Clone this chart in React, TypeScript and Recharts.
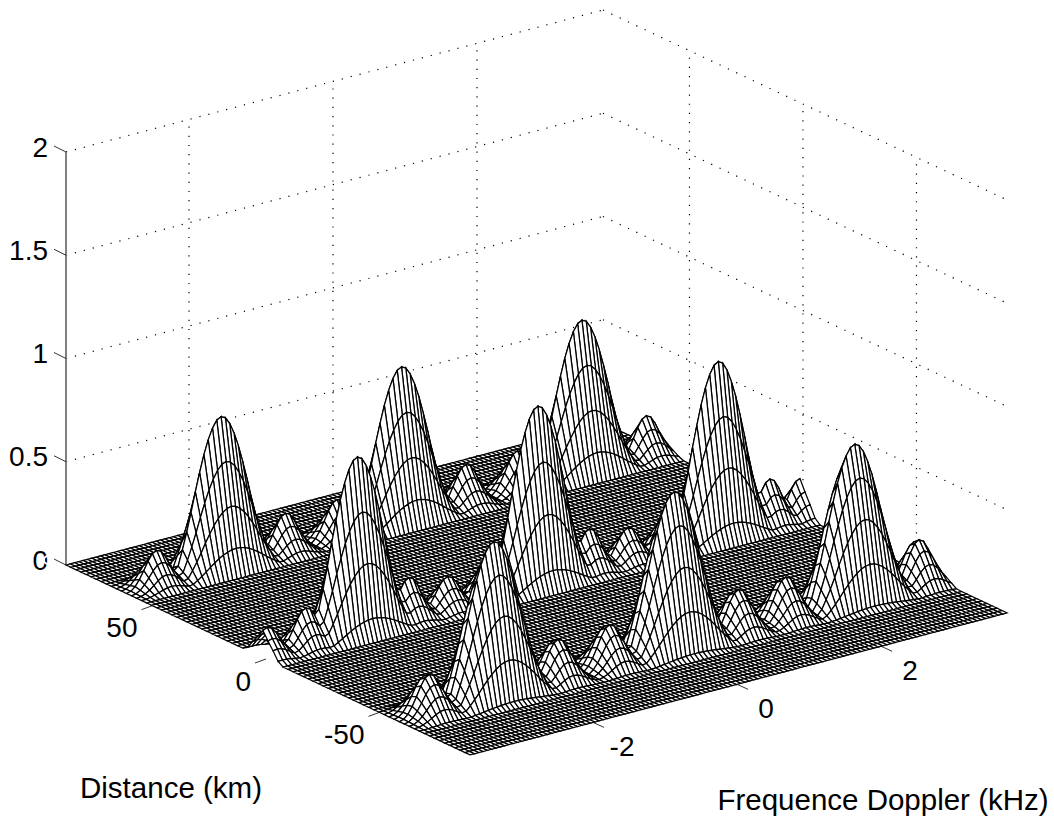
import { ComposedChart, Line, XAxis, YAxis } from "recharts";

const zTicks = [0, 0.5, 1, 1.5, 2];
const zTickLabels = ["0", "0.5", "1", "1.5", "2"];
const dopplerTicks = [-2, 0, 2];
const distanceTicks = [50, 0, -50];

// mesh size, as counted on the floor of the plot
const ROWS = 80;
const COLS = 125;

// the three bands of peaks, back to front
const bandRows = [12, 39, 66];
const bigCols = [22, 64, 106];
const bigHeights = [
  [0.735, 0.745, 0.74],
  [0.85, 0.865, 0.85],
  [0.75, 0.76, 0.76],
];
const smallCols = [
  [7, 37, 49, 79, 91, 121],
  [1, 10, 34, 43, 52, 76, 85, 94, 118, 125],
  [7, 37, 49, 79, 90, 121],
];
const smallHeights = [
  [0.17, 0.185, 0.185, 0.19, 0.19, 0.195],
  [0.14, 0.185, 0.2, 0.155, 0.19, 0.205, 0.16, 0.19, 0.215, 0.18],
  [0.19, 0.195, 0.2, 0.205, 0.205, 0.215],
];
const rowProfiles = [
  [0, 0.18, 0.44, 0.72, 1, 0.72, 0.44, 0.18, 0],
  [0, 0.12, 0.42, 0.7, 1, 0.7, 0.42, 0.12, 0],
  [0.1, 0.35, 0.62, 0.9, 1, 0.8, 0.55, 0.28, 0.03],
];
const bigProfile = [1, 0.985, 0.94, 0.87, 0.78, 0.67, 0.55, 0.42, 0.3, 0.19, 0.09, 0.03, 0];
const smallProfile = [1, 0.94, 0.76, 0.52, 0.3, 0.13, 0.03, 0];

// view of the box
const DOP_MIN = -3.708;
const DOP_MAX = 3.75;
const DIST_MAX = 88.1;
const DIST_MIN = -89.9;

function project(dop: number, dist: number, z: number) {
  const u = dop - DOP_MIN;
  const v = DIST_MAX - dist;
  return {
    x: 66 + u * 72 + v * 2.27,
    y: 565 - u * 19.04 + v * 1.067 - z * 206.5,
  };
}

function heightAt(r: number, c: number) {
  let z = 0;
  bandRows.forEach((center, b) => {
    const rowGain = rowProfiles[b][r - center + 4] ?? 0;
    if (rowGain === 0) return;
    bigCols.forEach((col, i) => {
      const g = bigProfile[Math.abs(c - col)] ?? 0;
      z = Math.max(z, bigHeights[b][i] * rowGain * g);
    });
    smallCols[b].forEach((col, i) => {
      const g = smallProfile[Math.abs(c - col)] ?? 0;
      z = Math.max(z, smallHeights[b][i] * rowGain * g);
    });
  });
  return z;
}

const meshData: { x: number; y: number }[] = [];
for (let r = 0; r <= ROWS; r++) {
  for (let c = 0; c <= COLS; c++) {
    const dop = DOP_MIN + (c / COLS) * (DOP_MAX - DOP_MIN);
    const dist = DIST_MAX - (r / ROWS) * (DIST_MAX - DIST_MIN);
    meshData.push(project(dop, dist, heightAt(r, c)));
  }
}

// back walls
const gridLines: { x: number; y: number }[][] = [];
zTicks.forEach((z) => {
  if (z === 0) return;
  gridLines.push([project(DOP_MIN, DIST_MAX, z), project(DOP_MAX, DIST_MAX, z)]);
  gridLines.push([project(DOP_MAX, DIST_MAX, z), project(DOP_MAX, DIST_MIN, z)]);
});
dopplerTicks.forEach((d) => {
  gridLines.push([project(d, DIST_MAX, 0), project(d, DIST_MAX, 2)]);
});
distanceTicks.forEach((d) => {
  gridLines.push([project(DOP_MAX, d, 0), project(DOP_MAX, d, 2)]);
});

const tickLines: { x: number; y: number }[][] = [];
const labels: { x: number; y: number; text: string; anchor: string; size: number }[] = [];
zTicks.forEach((z, i) => {
  const p = project(DOP_MIN, DIST_MAX, z);
  tickLines.push([p, { x: p.x - 12, y: p.y - 6 }]);
  labels.push({ x: 48, y: p.y - 5, text: zTickLabels[i], anchor: "end", size: 28 });
});
distanceTicks.forEach((d) => {
  const p = project(DOP_MIN, d, 0);
  tickLines.push([p, { x: p.x - 11, y: p.y + 4 }]);
  labels.push({ x: p.x - 15, y: p.y + 22, text: String(d), anchor: "end", size: 28 });
});
dopplerTicks.forEach((d) => {
  const p = project(d, DIST_MIN, 0);
  tickLines.push([p, { x: p.x + 11, y: p.y + 5 }]);
  labels.push({ x: p.x + 29, y: p.y + 24, text: String(d), anchor: "middle", size: 28 });
});
labels.push({ x: 171, y: 787, text: "Distance (km)", anchor: "middle", size: 29.5 });
labels.push({ x: 883, y: 799, text: "Frequence Doppler (kHz)", anchor: "middle", size: 29.5 });

// painter's order: far row first, high doppler first inside a row
function MeshCells(props: any) {
  const { index, points } = props;
  if (index !== 0 || !points) return null;
  const cells = [];
  const stride = COLS + 1;
  for (let r = 0; r < ROWS; r++) {
    for (let c = COLS - 1; c >= 0; c--) {
      const a = points[r * stride + c];
      const b = points[r * stride + c + 1];
      const d = points[(r + 1) * stride + c + 1];
      const e = points[(r + 1) * stride + c];
      cells.push(
        <path
          key={`${r}-${c}`}
          d={`M${a.x} ${a.y}L${b.x} ${b.y}L${d.x} ${d.y}L${e.x} ${e.y}Z`}
          fill="#fff"
          stroke="#000"
          strokeWidth={1.25}
        />
      );
    }
  }
  return <g key="mesh">{cells}</g>;
}

function LabelText(props: any) {
  const { cx, cy, payload, index } = props;
  return (
    <text
      key={index}
      x={cx}
      y={cy}
      textAnchor={payload.anchor}
      dominantBaseline="central"
      fontFamily="Liberation Sans"
      fontSize={payload.size}
      fill="#000"
    >
      {payload.text}
    </text>
  );
}

export default function App() {
  return (
    <div style={{ position: "absolute", left: 0, top: 0, background: "#fff" }}>
      <ComposedChart width={1054} height={816} margin={{ top: 0, right: 0, bottom: 0, left: 0 }}>
        <XAxis type="number" dataKey="x" domain={[0, 1054]} hide allowDataOverflow />
        <YAxis type="number" dataKey="y" domain={[0, 816]} reversed hide allowDataOverflow />
        {gridLines.map((seg, i) => (
          <Line
            key={`grid-${i}`}
            data={seg}
            dataKey="y"
            stroke="#000"
            strokeWidth={1.2}
            strokeDasharray="1.2 8"
            dot={false}
            isAnimationActive={false}
          />
        ))}
        <Line
          data={[project(DOP_MIN, DIST_MAX, 0), project(DOP_MIN, DIST_MAX, 2)]}
          dataKey="y"
          stroke="#808080"
          strokeWidth={2}
          dot={false}
          isAnimationActive={false}
        />
        {tickLines.map((seg, i) => (
          <Line
            key={`tick-${i}`}
            data={seg}
            dataKey="y"
            stroke="#000"
            strokeWidth={0.8}
            dot={false}
            isAnimationActive={false}
          />
        ))}
        <Line
          data={meshData}
          dataKey="y"
          stroke="none"
          dot={MeshCells}
          isAnimationActive={false}
        />
        <Line
          data={labels}
          dataKey="y"
          stroke="none"
          dot={LabelText}
          isAnimationActive={false}
        />
      </ComposedChart>
    </div>
  );
}
